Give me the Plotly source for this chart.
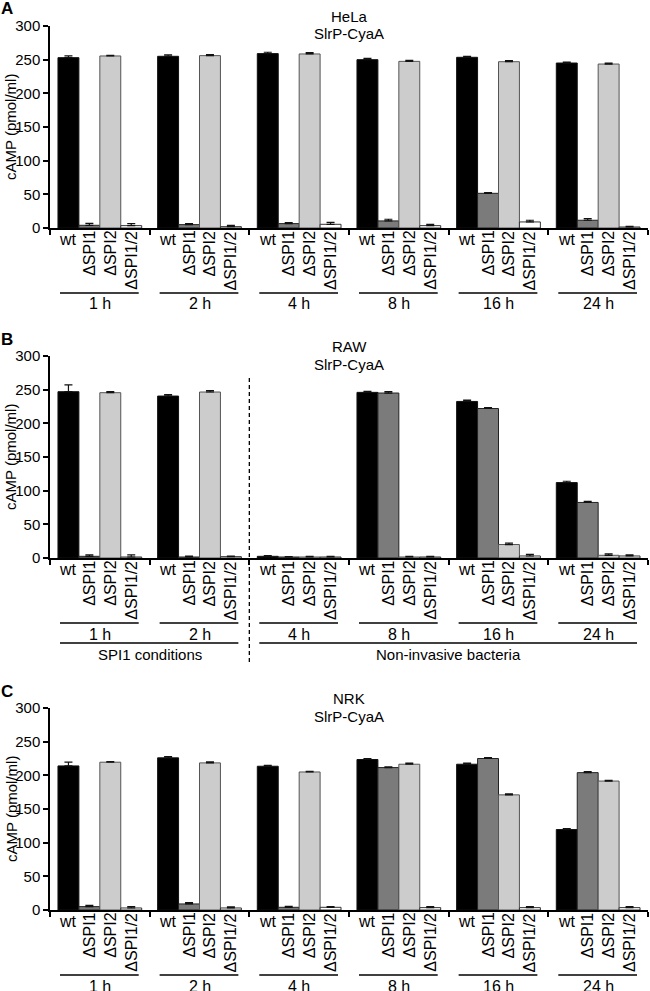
import plotly.graph_objects as go

times = ["1 h", "2 h", "4 h", "8 h", "16 h", "24 h"]
strains = ["wt", "ΔSPI1", "ΔSPI2", "ΔSPI1/2"]
bar_colors = ["#000000", "#7b7b7b", "#cccccc", "#ffffff"]
bar_edges = ["#111111", "#222222", "#555555", "#333333"]
yticks = [0, 50, 100, 150, 200, 250, 300]

# Panel A: HeLa
hela_wt = [253, 255, 259, 250, 253.5, 245]
hela_wt_err = [2.5, 2, 2, 2, 1.5, 1.5]
hela_spi1 = [4, 5, 6.5, 10.5, 51.5, 11.5]
hela_spi1_err = [3, 1.5, 1.5, 2.5, 1, 2.5]
hela_spi2 = [255.5, 256, 258.5, 247.5, 247, 243.5]
hela_spi2_err = [1, 1.5, 2, 1.5, 1.5, 1.5]
hela_spi12 = [3.5, 2, 5.5, 3.5, 9, 1.5]
hela_spi12_err = [3, 2, 3, 2, 2.5, 1]

# Panel B: RAW
raw_wt = [247, 240.5, 2.5, 246, 232.5, 112]
raw_wt_err = [10, 2, 1, 1.5, 2, 2]
raw_spi1 = [2.5, 1.5, 1.5, 245, 222, 82.5]
raw_spi1_err = [2, 1.5, 0.5, 2, 1.5, 1.5]
raw_spi2 = [245.5, 246.5, 1.5, 1.5, 20, 4]
raw_spi2_err = [1.5, 2, 1, 1, 2, 2]
raw_spi12 = [1.5, 2, 1.5, 1.5, 3, 3]
raw_spi12_err = [3, 1, 1, 1, 2.5, 1.5]

# Panel C: NRK
nrk_wt = [214, 226, 213.5, 223.5, 216.5, 119.5]
nrk_wt_err = [5.5, 2, 1.5, 1.5, 1.5, 1.5]
nrk_spi1 = [5, 9, 4, 211.5, 225, 204]
nrk_spi1_err = [2, 2, 1.5, 1, 1.5, 1.5]
nrk_spi2 = [219.5, 218.5, 205, 216.5, 171, 191.5]
nrk_spi2_err = [1, 1.5, 1, 1.5, 1.5, 1]
nrk_spi12 = [3, 3, 4, 3.5, 3.5, 3.5]
nrk_spi12_err = [2, 1.5, 1, 1.5, 1.5, 1.5]

panels = [
    dict(letter="A", cell="HeLa",
         vals=[hela_wt, hela_spi1, hela_spi2, hela_spi12],
         errs=[hela_wt_err, hela_spi1_err, hela_spi2_err, hela_spi12_err],
         top=26, bottom=228),
    dict(letter="B", cell="RAW",
         vals=[raw_wt, raw_spi1, raw_spi2, raw_spi12],
         errs=[raw_wt_err, raw_spi1_err, raw_spi2_err, raw_spi12_err],
         top=356, bottom=558),
    dict(letter="C", cell="NRK",
         vals=[nrk_wt, nrk_spi1, nrk_spi2, nrk_spi12],
         errs=[nrk_wt_err, nrk_spi1_err, nrk_spi2_err, nrk_spi12_err],
         top=708, bottom=910),
]

H = 991
W = 650
ML, MR = 50, 2
FONT = "Liberation Sans, Arial, sans-serif"


def py(p):
    return 1 - p / H


def px(p):
    return (p - ML) / (W - ML - MR)


fig = go.Figure()
annotations = []
shapes = []
BW = 0.21

for i, pn in enumerate(panels):
    k = "" if i == 0 else str(i + 1)
    xa, ya = "x" + k, "y" + k
    for j, name in enumerate(strains):
        fig.add_trace(go.Bar(
            x=times, y=pn["vals"][j], name=name, xaxis=xa, yaxis=ya,
            marker=dict(color=bar_colors[j], line=dict(color=bar_edges[j], width=1)),
            error_y=dict(type="data", array=pn["errs"][j], symmetric=False,
                         arrayminus=[0] * len(times), color="#111111",
                         thickness=1.2, width=4),
            showlegend=False, hoverinfo="skip"))
    fig.update_layout(**{
        "xaxis" + k: dict(domain=[0, 1], type="category", categoryorder="array",
                          categoryarray=times, range=[-0.5, 5.5],
                          showticklabels=False, ticks="outside", tickson="boundaries",
                          ticklen=5, tickwidth=1.5, tickcolor="black",
                          showline=True, linecolor="black", linewidth=1.5,
                          showgrid=False, zeroline=False, anchor=ya, automargin=False),
        "yaxis" + k: dict(domain=[py(pn["bottom"]), py(pn["top"])], range=[0, 300],
                          tickvals=yticks, ticks="outside", ticklen=5, tickwidth=1.5,
                          tickcolor="black", showline=True, linecolor="black",
                          linewidth=1.5, showgrid=False, zeroline=False,
                          tickfont=dict(size=15, color="black", family=FONT),
                          anchor=xa, automargin=False),
    })
    # bar labels
    for g in range(len(times)):
        for j, name in enumerate(strains):
            annotations.append(dict(
                x=g + (j - 1.5) * BW, y=0, xref=xa, yref=ya, text=name,
                showarrow=False, xanchor="center", yanchor="top", yshift=-2,
                textangle=0 if j == 0 else -90, borderpad=0,
                font=dict(size=16, color="black", family=FONT)))
        annotations.append(dict(
            x=g, y=py(pn["bottom"] + 76), xref=xa, yref="paper", text=times[g],
            showarrow=False, xanchor="center", yanchor="middle",
            font=dict(size=16, color="black", family=FONT)))
        shapes.append(dict(type="line", xref=xa, yref="paper",
                           x0=g - 0.4, x1=g + 0.39,
                           y0=py(pn["bottom"] + 65), y1=py(pn["bottom"] + 65),
                           line=dict(color="black", width=1.5)))
    # titles
    annotations.append(dict(x=2.5, y=py(pn["top"] - 10), xref=xa, yref="paper",
                            text=pn["cell"], showarrow=False, xanchor="center",
                            yanchor="middle", font=dict(size=15, color="black", family=FONT)))
    annotations.append(dict(x=2.5, y=py(pn["top"] + 8), xref=xa, yref="paper",
                            text="SlrP-CyaA", showarrow=False, xanchor="center",
                            yanchor="middle", font=dict(size=15, color="black", family=FONT)))
    annotations.append(dict(x=px(7), y=py(pn["top"] - 17), xref="paper", yref="paper",
                            text="<b>" + pn["letter"] + "</b>", showarrow=False,
                            xanchor="center", yanchor="middle", borderpad=0,
                            font=dict(size=17, color="black", family=FONT)))
    annotations.append(dict(x=px(11), y=py((pn["top"] + pn["bottom"]) / 2), xref="paper",
                            yref="paper", text="cAMP (pmol/ml)", showarrow=False,
                            textangle=-90, xanchor="center", yanchor="middle", borderpad=0,
                            font=dict(size=15, color="black", family=FONT)))

# Panel B condition labels
b_bottom = panels[1]["bottom"]
conditions = ["SPI1 conditions", "Non-invasive bacteria"]
cond_spans = [(0, 1), (2, 5)]
for text, (g0, g1) in zip(conditions, cond_spans):
    shapes.append(dict(type="line", xref="x2", yref="paper", x0=g0 - 0.4, x1=g1 + 0.39,
                       y0=py(b_bottom + 85), y1=py(b_bottom + 85),
                       line=dict(color="black", width=1.5)))
    annotations.append(dict(x=(g0 + g1) / 2, y=py(b_bottom + 96), xref="x2", yref="paper",
                            text=text, showarrow=False, xanchor="center", yanchor="middle",
                            font=dict(size=15, color="black", family=FONT)))
shapes.append(dict(type="line", xref="x2", yref="paper", x0=1.5, x1=1.5,
                   y0=py(378), y1=py(662),
                   line=dict(color="black", width=1.3, dash="4px,3px")))

fig.update_layout(
    width=W, height=H,
    margin=dict(l=ML, r=MR, t=0, b=0, autoexpand=False),
    barmode="group", bargap=0.16, bargroupgap=0,
    plot_bgcolor="white", paper_bgcolor="white",
    font=dict(family=FONT, size=15, color="black"),
    annotations=annotations, shapes=shapes,
)

fig.write_html(
    "out.html",
    config={"displayModeBar": False},
    post_script="document.body.style.margin='0';document.body.style.padding='0';"
                "document.documentElement.style.overflow='hidden';",
)
